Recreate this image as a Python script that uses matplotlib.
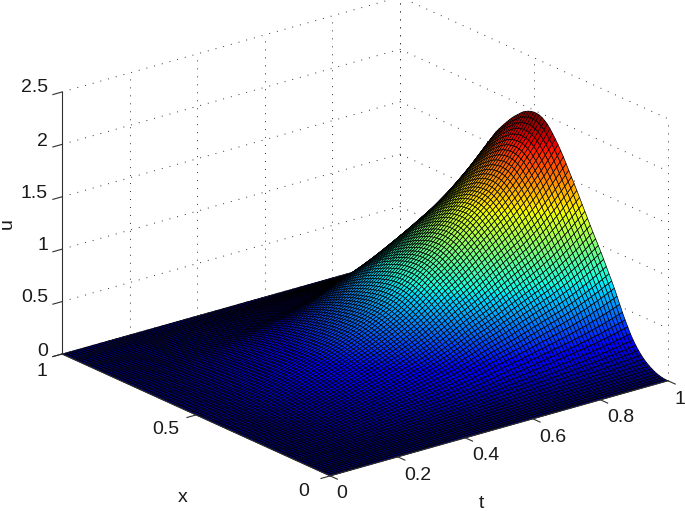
import numpy as np
import matplotlib
matplotlib.use("Agg")
import matplotlib.pyplot as plt
from mpl_toolkits.mplot3d import proj3d

plt.rcParams['font.family'] = ['Liberation Sans', 'DejaVu Sans']

# Two profiles. The mesh is their product: this
# separable shape is an assumption, not a cell-by-cell reading of the surface.
# u along the t=1 edge, for x = 0 .. 1 in 100 steps
u_at_t1 = [0, .001, .004, .010, .018, .030, .044, .060, .080, .103,
           .130, .162, .198, .238, .285, .340, .395, .455, .520, .585,
           .650, .708, .764, .822, .880, .935, .988, 1.040, 1.092, 1.145,
           1.200, 1.255, 1.310, 1.365, 1.420, 1.473, 1.525, 1.577, 1.630, 1.682,
           1.730, 1.776, 1.818, 1.857, 1.893, 1.925, 1.948, 1.966, 1.977, 1.982,
           1.982, 1.977, 1.968, 1.955, 1.938, 1.915, 1.890, 1.865, 1.838, 1.808,
           1.775, 1.742, 1.708, 1.672, 1.635, 1.590, 1.545, 1.500, 1.455, 1.405,
           1.355, 1.300, 1.245, 1.190, 1.130, 1.065, .998, .930, .862, .796,
           .735, .680, .630, .582, .535, .490, .448, .408, .370, .332,
           .295, .258, .222, .187, .152, .118, .086, .056, .030, .010, 0]
# relative growth along t, for t = 0 .. 1 in 100 steps
growth_t = [0, .002, .005, .008, .011, .014, .016, .018, .020, .0225,
            .025, .0285, .032, .0355, .039, .043, .047, .051, .056, .0605,
            .065, .0697, .0745, .0793, .0841, .089, .0942, .0994, .1046, .1098,
            .115, .1208, .1266, .1324, .1382, .144, .150, .1562, .1624, .1686,
            .175, .182, .189, .196, .203, .21, .2177, .2255, .2335, .2417,
            .25, .2592, .2685, .2782, .288, .298, .3098, .3218, .3342, .347,
            .36, .3733, .3868, .4005, .4142, .428, .44, .452, .464, .477,
            .49, .503, .517, .531, .545, .56, .574, .588, .602, .616,
            .63, .644, .658, .672, .686, .70, .716, .733, .75, .767,
            .785, .804, .824, .844, .864, .885, .907, .93, .953, .976, 1.0]
t_ticks = [0, .2, .4, .6, .8, 1]
x_ticks = [0, .5, 1]
u_ticks = [0, .5, 1, 1.5, 2, 2.5]

W, H = 685, 511
fig = plt.figure(figsize=(W / 100, H / 100), dpi=100)
ax = fig.add_axes([0, 0, 1, 1], projection='3d', proj_type='ortho')
ax.computed_zorder = False
ax.view_init(elev=20.96, azim=-128.2)
aspect = (430, 433.6, 280.6)
ax.set_box_aspect(aspect, zoom=1)
ax.set_xlim(0, 1)
ax.set_ylim(0, 1)
ax.set_zlim(0, 2.5)
ax.set_axis_off()

t = np.linspace(0, 1, len(growth_t))
x = np.linspace(0, 1, len(u_at_t1))
T, X = np.meshgrid(t, x)
U = np.outer(u_at_t1, growth_t)
surf = ax.plot_surface(T, X, U, rstride=1, cstride=1, cmap='jet', edgecolor='k',
                       linewidth=0.5, shade=False, antialiased=True, zorder=2)
surf.set_clip_on(False)

grid = dict(color='#333333', lw=0.7, ls=(0, (1, 7.2)), zorder=1, clip_on=False)
for z in u_ticks:
    ax.plot([0, 1], [1, 1], [z, z], **grid)
    ax.plot([1, 1], [1, 0], [z, z], **grid)
for v in t_ticks:
    ax.plot([v, v], [1, 1], [0, 2.5], **grid)
for v in x_ticks:
    ax.plot([1, 1], [v, v], [0, 2.5], **grid)

axis = dict(color='#303030', lw=0.8, zorder=3, clip_on=False)
ax.plot([0, 0], [1, 1], [0, 2.5], **axis)
ax.plot([0, 0], [1, 0], [0, 0], **axis)
ax.plot([0, 1], [0, 0], [0, 0], **axis)
for z in u_ticks:
    ax.plot([0, -.027], [1, 1], [z, z], **axis)
for v in x_ticks:
    ax.plot([0, -.027], [v, v], [0, 0], **axis)
for v in t_ticks:
    ax.plot([v, v], [0, -.027], [0, 0], **axis)


def to_px(a, b, c):
    xs, ys, _ = proj3d.proj_transform(a, b, c, ax.get_proj())
    return ax.transData.transform((xs, ys))


# fit the axes box so that the floor corners land where they are in the picture
fig.canvas.draw()
p0, p1 = to_px(0, 1, 0), to_px(1, 0, 0)
ax.set_box_aspect(aspect, zoom=606 / (p1[0] - p0[0]))
fig.canvas.draw()
p0 = to_px(0, 1, 0)
dx, dy = 62 - p0[0], (H - 354) - p0[1]
pos = ax.get_position()
ax.set_position([pos.x0 + dx / W, pos.y0 + dy / H, pos.width, pos.height])

lab = dict(fontsize=14, color='#1a1a1a')


def put(px, py, s, **kw):
    opts = dict(ha='center', va='center')
    opts.update(lab)
    opts.update(kw)
    fig.text(px / W, 1 - py / H, s, **opts)


for s, py in zip(['0', '0.5', '1', '1.5', '2', '2.5'], [351, 298, 246, 193, 141, 88]):
    put(48, py, s, ha='right')
for s, px, py in [('1', 42, 371), ('0.5', 166, 430), ('0', 304, 491)]:
    put(px, py, s)
for s, px, py in [('0', 342, 493), ('0.2', 418, 475), ('0.4', 486, 455),
                  ('0.6', 553, 437), ('0.8', 621, 418), ('1', 680, 400)]:
    put(px, py, s)
put(7, 224, 'u', rotation=90)
put(183, 497, 'x')
put(481, 503, 't')

fig.savefig('out.png', dpi=100)
